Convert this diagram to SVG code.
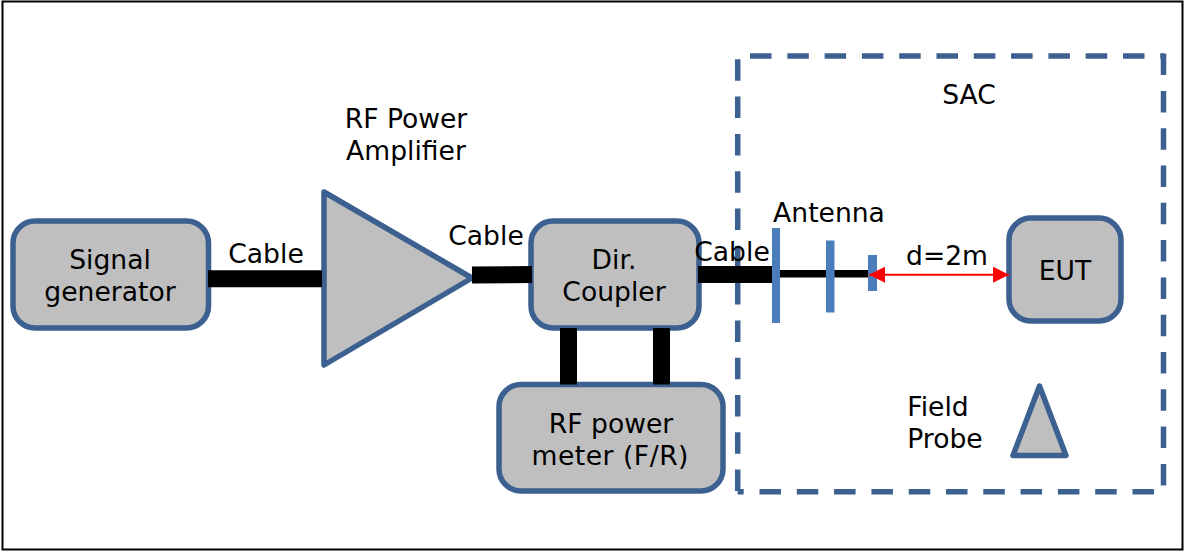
<svg xmlns="http://www.w3.org/2000/svg" width="1184" height="552" viewBox="0 0 1184 552">
<style>
.n{fill:#bfbfbf;stroke:#3c6090;stroke-width:5.500px;stroke-linejoin:round}
.t{font-family:"DejaVu Sans",Verdana,sans-serif;font-size:26.600px;fill:#000;text-anchor:middle}
.w{stroke:#000;fill:none;stroke-width:17px}
.a{fill:#4a7ebb}
.d{fill:none;stroke:#3c6090;stroke-width:5.500px;stroke-dasharray:21.500 15.800}
</style>
<defs>
<marker id="ah" viewBox="0 0 10 10" refX="10" refY="5" markerWidth="16" markerHeight="16" markerUnits="userSpaceOnUse" orient="auto-start-reverse"><path d="M0 0L10 5L0 10z" fill="#f00"/></marker>
</defs>
<rect x="2.500" y="1.500" width="1180" height="548" fill="#fff" stroke="#000" stroke-width="2"/>
<g id="sac">
<path class="d" d="M750 56H1163.500"/>
<path class="d" d="M1163.500 53.600V491.700"/>
<path class="d" d="M1154 491.700H737.700"/>
<path class="d" d="M737.700 59.300V491.700"/>
<text class="t" x="969" y="104">SAC</text>
</g>
<g id="signal-generator"><rect class="n" x="13" y="221" width="195.500" height="107" rx="22"/><text class="t" x="110" y="269">Signal</text><text class="t" x="110" y="301">generator</text></g>
<g id="amplifier"><path class="n" d="M324 192L472 278L324 365z"/><text class="t" x="406" y="128">RF Power</text><text class="t" x="406" y="160">Amplifier</text></g>
<g id="coupler"><rect class="n" x="531" y="221" width="168" height="107" rx="22"/><text class="t" x="614" y="269">Dir.</text><text class="t" x="614" y="301">Coupler</text></g>
<g id="power-meter"><rect class="n" x="499" y="384.500" width="224" height="106.500" rx="22"/><text class="t" x="611" y="433">RF power</text><text class="t" x="610" y="465" textLength="157" lengthAdjust="spacing">meter (F/R)</text></g>
<g id="eut"><rect class="n" x="1009" y="218" width="112" height="103" rx="22"/><text class="t" x="1065" y="280">EUT</text></g>
<g id="field-probe"><path class="n" d="M1039.500 386L1066 455.500H1013z"/><text class="t" x="938" y="416">Field</text><text class="t" x="945" y="448">Probe</text></g>
<g id="connectors">
<path class="w" d="M208 278.800H322"/>
<path class="w" d="M472 275L532 274.500"/>
<path class="w" d="M698 274.500H775"/>
<path class="w" style="stroke-width:7.500px" d="M780 273.800H868"/>
<path class="w" d="M568.500 328V384.500"/>
<path class="w" d="M661.500 328V384.500"/>
</g>
<g id="antenna"><rect class="a" x="772" y="228" width="8" height="95"/><rect class="a" x="826" y="240.500" width="8.500" height="72"/><rect class="a" x="868" y="255" width="9" height="36"/><text class="t" x="829" y="222">Antenna</text></g>
<path id="distance" d="M869 274.700H1009" stroke="#f00" stroke-width="2" fill="none" marker-start="url(#ah)" marker-end="url(#ah)"/>
<text class="t" x="266" y="263">Cable</text>
<text class="t" x="486" y="245">Cable</text>
<text class="t" x="732" y="261">Cable</text>
<text class="t" x="947" y="265">d=2m</text>
</svg>
